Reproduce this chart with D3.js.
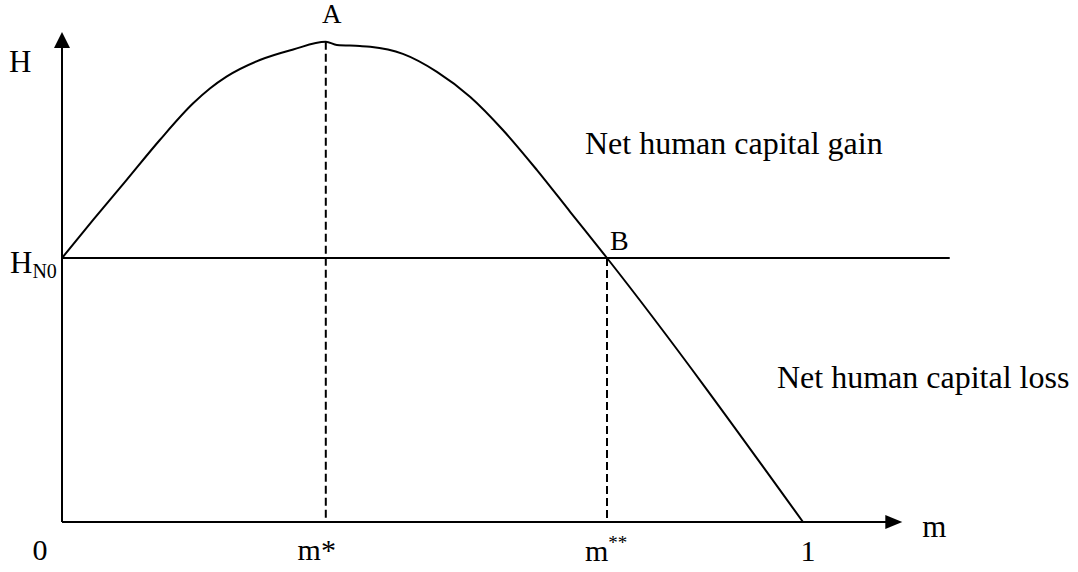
<!DOCTYPE html>
<html><head><meta charset="utf-8">
<script src="https://cdn.jsdelivr.net/npm/d3@7"></script>
<style>
html,body{margin:0;padding:0;background:#fff;}
svg text{font-family:"Liberation Serif","Times New Roman",serif;fill:#000;}
</style></head>
<body>
<svg id="c" width="1078" height="572"></svg>
<script>
// curve H(m): m in [0,1], H normalised so H_N0 = 1
const mVals = [0, 0.042, 0.087, 0.132, 0.177, 0.200, 0.222, 0.267, 0.312, 0.356, 0.371, 0.402, 0.416, 0.460, 0.506, 0.551, 0.595, 0.641, 0.686, 0.7355, 1.0];
const hVals = [1.0, 1.144, 1.295, 1.447, 1.586, 1.643, 1.687, 1.750, 1.790, 1.819, 1.807, 1.803, 1.800, 1.773, 1.705, 1.610, 1.485, 1.333, 1.174, 1.0, 0];
const hN0 = 1.0;
const mStar = 0.356, hStar = 1.819;
const mStarStar = 0.7355;
const xAxisEnd = 1.134, yAxisEnd = 1.856, hLineEnd = 1.198;
const xTickLabels = [{m:0, t:"0"}, {m:mStar, t:"m*"}, {m:mStarStar, t:"m", sup:"**"}, {m:1, t:"1"}];

const svg = d3.select("#c");
const x = d3.scaleLinear().domain([0, 1]).range([62, 803]);
const y = d3.scaleLinear().domain([0, 1]).range([522, 258]);
const FS = 30;

// axes
svg.append("line").attr("x1", x(0)).attr("y1", y(0)).attr("x2", x(0)).attr("y2", y(yAxisEnd) + 14)
  .attr("stroke", "#000").attr("stroke-width", 2);
svg.append("line").attr("x1", x(0)).attr("y1", y(0)).attr("x2", x(xAxisEnd) - 15).attr("y2", y(0))
  .attr("stroke", "#000").attr("stroke-width", 2);
// arrowheads
const ty = y(yAxisEnd);
svg.append("path").attr("d", `M${x(0)},${ty} L${x(0)-8},${ty+16} L${x(0)+8},${ty+16} Z`).attr("fill", "#000");
const tx = x(xAxisEnd);
svg.append("path").attr("d", `M${tx},${y(0)} L${tx-17},${y(0)-7} L${tx-17},${y(0)+7} Z`).attr("fill", "#000");

// horizontal H_N0 line
svg.append("line").attr("x1", x(0)).attr("x2", x(hLineEnd)).attr("y1", y(hN0)).attr("y2", y(hN0))
  .attr("stroke", "#000").attr("stroke-width", 2);

// dashed verticals
svg.append("line").attr("x1", x(mStar)).attr("x2", x(mStar)).attr("y1", y(hStar)).attr("y2", y(0))
  .attr("stroke", "#000").attr("stroke-width", 2).attr("stroke-dasharray", "8,4");
svg.append("line").attr("x1", x(mStarStar)).attr("x2", x(mStarStar)).attr("y1", y(hN0)).attr("y2", y(0))
  .attr("stroke", "#000").attr("stroke-width", 2).attr("stroke-dasharray", "8,4");

// curve
const pts = mVals.map((m, i) => [m, hVals[i]]);
const line = d3.line().x(d => x(d[0])).y(d => y(d[1])).curve(d3.curveMonotoneX);
svg.append("path").datum(pts).attr("d", line).attr("fill", "none").attr("stroke", "#000").attr("stroke-width", 2);

// texts
function txt(xp, yp, s, size, anchor) {
  return svg.append("text").attr("x", xp).attr("y", yp).attr("font-size", size || FS)
    .attr("text-anchor", anchor || "start").text(s);
}
txt(9, 72, "H", 31);
txt(x(mStar) + 6, 23, "A", 27, "middle");
const hn = svg.append("text").attr("x", 10).attr("y", 273).attr("font-size", 31);
hn.append("tspan").text("H");
hn.append("tspan").attr("font-size", 20).attr("dy", 5).text("N0");
txt(x(mStarStar) + 3, 250, "B", 28);
txt(585, 154, "Net human capital gain", 32);
txt(777, 388, "Net human capital loss", 32);
txt(x(xAxisEnd) + 20, 537, "m", 31);

xTickLabels.forEach(d => {
  if (d.sup) {
    const t = svg.append("text").attr("x", x(d.m) - 22).attr("y", 561).attr("font-size", FS);
    t.append("tspan").text(d.t);
    t.append("tspan").attr("font-size", 19).attr("dy", -12).text(d.sup);
  } else if (d.m === 0) {
    txt(x(d.m) - 22, 560, d.t, FS, "middle");
  } else if (d.m === 1) {
    txt(x(d.m) + 5, 561, d.t, FS, "middle");
  } else {
    txt(x(d.m) - 9, 560, d.t, FS, "middle");
  }
});
</script>
</body></html>
